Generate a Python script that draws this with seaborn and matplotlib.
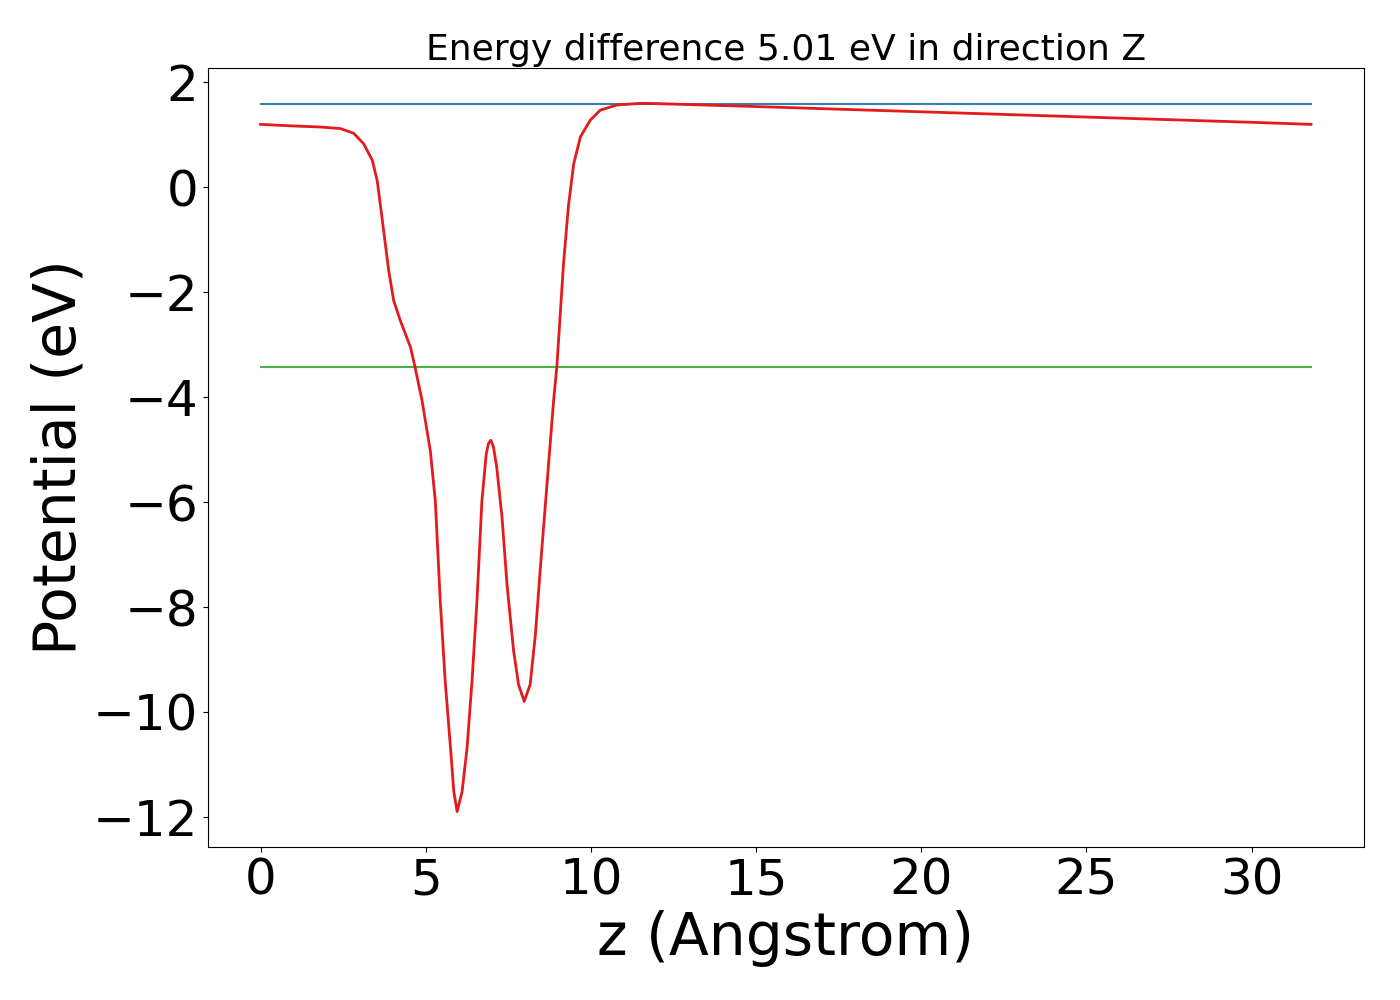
import matplotlib
matplotlib.use("Agg")
import matplotlib.pyplot as plt
import pandas as pd
import seaborn as sns

z_values = [0.0, 1.0, 1.81, 2.42, 2.82, 3.12, 3.38, 3.53, 3.68, 3.88, 4.03, 4.23, 4.54, 4.67,
            4.89, 5.14, 5.29, 5.44, 5.59, 5.75, 5.85, 5.95, 6.10, 6.25, 6.40, 6.55, 6.70, 6.83,
            6.90, 6.97, 7.05, 7.15, 7.31, 7.46, 7.66, 7.81, 7.98, 8.16, 8.32, 8.47, 8.67, 8.87,
            8.97, 9.17, 9.32, 9.48, 9.68, 9.98, 10.28, 10.78, 11.49, 11.79,
            15.0, 20.0, 25.0, 30.0, 31.8]
potential = [1.20, 1.17, 1.15, 1.12, 1.03, 0.83, 0.52, 0.13, -0.60, -1.59, -2.16, -2.54, -3.05, -3.41,
             -4.07, -5.03, -5.98, -7.89, -9.42, -10.69, -11.52, -11.90, -11.52, -10.69, -9.42, -7.89, -5.98, -5.09,
             -4.88, -4.82, -4.95, -5.34, -6.30, -7.57, -8.84, -9.48, -9.80, -9.48, -8.52, -7.25, -5.66, -4.07,
             -3.41, -1.46, -0.35, 0.45, 0.96, 1.28, 1.47, 1.57, 1.60, 1.60,
             1.54, 1.44, 1.34, 1.24, 1.20]

vacuum_level = 1.59
fermi_level = -3.42
z_span = [0.0, 31.8]
y_ticks = [-12, -10, -8, -6, -4, -2, 0, 2]

df = pd.DataFrame({"z": z_values, "V": potential})

fig = plt.figure(figsize=(14, 10), dpi=100)
ax = fig.add_axes([0.1486, 0.153, 0.8254, 0.779])

sns.lineplot(x=z_span, y=[vacuum_level] * 2, ax=ax, color="#377eb8", linewidth=1.5)
sns.lineplot(x=z_span, y=[fermi_level] * 2, ax=ax, color="#4daf4a", linewidth=1.5)
sns.lineplot(data=df, x="z", y="V", ax=ax, color="#e41a1c", linewidth=2, sort=False)

ax.set_yticks(y_ticks)
ax.set_title("Energy difference %.2f eV in direction Z" % (vacuum_level - fermi_level), fontsize=26)
ax.set_xlabel("z (Angstrom)", fontsize=42)
ax.set_ylabel("Potential (eV)", fontsize=42)
ax.tick_params(labelsize=36)

fig.savefig("out.png", dpi=100)
